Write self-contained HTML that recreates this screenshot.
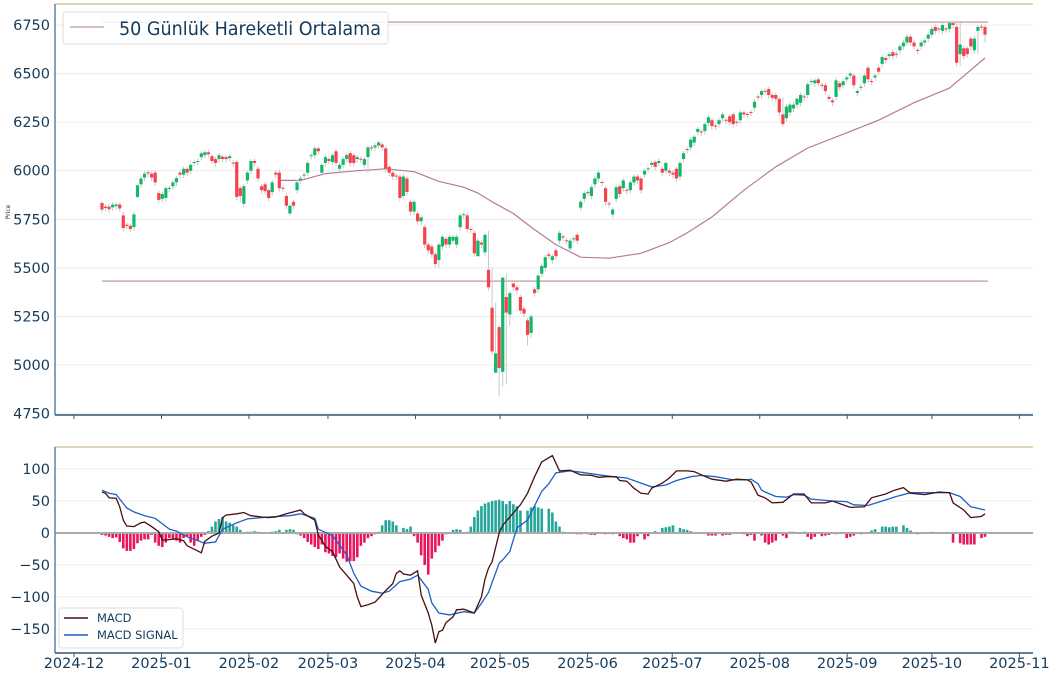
<!DOCTYPE html>
<html><head><meta charset="utf-8"><style>
body{margin:0;background:#fff;}
svg{display:block;font-family:"DejaVu Sans","Liberation Sans",sans-serif;}
</style></head><body>
<svg id="chart" width="1050" height="675" viewBox="0 0 1050 675"></svg>
<script>
const opens=[5834,5815,5815,5812,5818,5826,5770,5722,5716,5710,5865,5930,5965,5992,5985,5990,5885,5855,5860,5908,5920,5940,5990,5980,6010,6000,6040,6045,6070,6080,6095,6075,6060,6060,6072,6070,6065,6042,6045,5910,5830,5950,6000,6050,6010,5920,5930,5900,5890,5990,5990,5912,5870,5780,5840,5900,5950,5975,5990,6075,6080,6115,5990,6040,6060,6045,6100,6010,6030,6060,6090,6080,6060,6062,6030,6070,6120,6120,6130,6135,6115,6020,5990,5975,5970,5870,5960,5840,5790,5780,5740,5710,5620,5610,5570,5540,5610,5650,5620,5640,5620,5710,5772,5770,5700,5680,5560,5630,5580,5490,5295,4960,5195,4965,5350,5260,5420,5400,5350,5290,5230,5165,5390,5390,5470,5500,5570,5540,5590,5640,5662,5642,5600,5648,5670,5810,5855,5890,5870,5930,5960,5942,5910,5832,5775,5855,5920,5910,5902,5900,5940,5970,5960,5980,6008,6030,6045,6040,6010,6000,6000,5990,6010,5970,6060,6112,6120,6145,6200,6202,6205,6245,6260,6232,6240,6270,6262,6280,6290,6252,6260,6300,6292,6302,6325,6382,6390,6412,6420,6390,6390,6370,6290,6270,6300,6320,6340,6350,6382,6390,6458,6450,6470,6442,6440,6380,6362,6380,6450,6440,6470,6490,6490,6400,6428,6450,6530,6462,6480,6530,6550,6580,6590,6610,6602,6620,6640,6660,6690,6660,6622,6640,6660,6680,6700,6740,6732,6720,6732,6730,6760,6740,6600,6630,6630,6680,6620,6720,6742,6740];
const closes=[5800,5808,5802,5825,5826,5806,5705,5716,5700,5775,5925,5960,5985,5986,5965,5940,5850,5880,5910,5912,5940,5962,5980,6010,5990,6030,6045,6050,6090,6095,6085,6050,6040,6080,6060,6060,6075,6038,5865,5870,5920,5990,6050,6040,5960,5900,5895,5860,5940,5980,5910,5908,5820,5820,5820,5940,5960,5980,6040,6080,6115,6100,6030,6070,6050,6080,6040,6030,6060,6080,6040,6040,6070,6058,6060,6120,6118,6130,6145,6120,6010,5990,5970,5970,5860,5970,5890,5790,5840,5740,5760,5620,5590,5570,5520,5620,5660,5620,5660,5660,5660,5770,5776,5700,5695,5575,5640,5620,5670,5400,5070,5060,4985,5450,5270,5370,5400,5385,5280,5265,5155,5250,5370,5460,5510,5555,5562,5560,5560,5680,5656,5638,5640,5652,5640,5840,5885,5888,5915,5960,5990,5938,5840,5828,5800,5915,5880,5950,5898,5940,5970,5950,5900,6000,6012,6040,6020,6050,5990,6040,5990,5980,5960,6040,6090,6108,6160,6175,6215,6198,6240,6275,6230,6228,6260,6290,6258,6250,6240,6248,6300,6290,6288,6298,6355,6378,6410,6408,6390,6375,6370,6300,6240,6330,6340,6340,6370,6390,6378,6445,6462,6465,6450,6438,6410,6370,6352,6465,6430,6460,6480,6500,6440,6410,6432,6490,6470,6458,6490,6510,6585,6570,6600,6590,6598,6640,6660,6690,6660,6640,6618,6660,6670,6700,6730,6720,6728,6750,6728,6760,6750,6555,6650,6590,6600,6640,6680,6740,6738,6700];
const wickHighOverrides={6:5790,10:5935,50:6010,61:6125,85:5985,109:5690,110:5500,111:5320,113:5300,114:5470,116:5400,192:6380,241:6770,242:6760};
const wickLowOverrides={10:5860,39:5840,53:5770,75:5990,95:5500,106:5560,111:5000,112:4840,113:4890,114:4900,115:5200,120:5100,121:5140,192:6225,242:6540,247:6600,249:6660};
const maIdx=[50,56,63,72,80,88,95,102,106,110,116,121,128,135,143,152,160,165,172,181,190,199,210,219,229,239,249];
const maVals=[5950,5950,5985,6000,6010,5995,5945,5915,5885,5840,5780,5710,5620,5555,5550,5575,5630,5680,5762,5900,6020,6117,6195,6260,6350,6425,6580];
const macdIdx=[0,1,2,4,5,6,7,9,11,12,14,16,17,18,21,23,24,27,28,29,31,33,34,35,38,40,42,45,47,49,52,54,56,57,60,61,63,65,67,69,71,72,73,75,77,80,82,83,84,85,87,89,90,92,93,94,95,96,97,99,100,102,104,105,107,108,109,110,112,113,115,118,120,122,124,127,129,132,135,138,140,142,145,146,148,150,152,154,155,158,160,162,165,167,169,172,176,179,182,183,185,187,189,192,195,198,200,204,206,211,215,217,221,223,226,228,232,236,239,240,243,245,248,249];
const macdVals=[64,62,55,54,41,20,11,10,16,17,10,2,-11,-11,-9,-12,-20,-28,-31,-13,-5,0,24,28,30,32,27,25,24,25,30,33,36,30,20,-3,-21,-29,-53,-66,-79,-100,-115,-112,-108,-90,-79,-63,-59,-64,-66,-59,-97,-125,-144,-172,-154,-152,-140,-131,-120,-119,-123,-125,-100,-72,-55,-45,0,12,25,44,62,88,111,121,97,98,91,90,87,88,88,82,81,70,62,61,70,78,86,97,97,96,91,84,81,84,83,80,59,55,47,48,61,61,47,47,50,40,41,55,61,66,71,62,60,64,63,47,36,24,26,30];
const signalIdx=[0,2,4,7,9,12,15,19,21,24,27,29,32,34,38,41,47,53,56,60,61,65,69,71,73,76,79,81,84,87,89,92,93,95,98,102,105,107,109,112,113,115,117,120,124,126,128,132,135,140,144,148,152,155,159,162,166,169,173,178,182,183,185,186,187,190,193,195,198,200,206,210,212,216,220,224,228,234,239,242,245,249];
const signalVals=[67,62,60,39,33,27,23,6,3,-6,-12,-16,-14,6,16,22,25,27,30,23,6,-4,-34,-63,-83,-91,-94,-91,-76,-72,-66,-88,-109,-125,-128,-123,-125,-110,-93,-47,-42,-29,8,20,65,77,94,97,95,91,88,86,78,72,75,82,88,90,88,83,83,84,77,67,64,57,56,60,59,53,50,49,44,43,50,57,63,63,63,57,41,36];
const histVals=[-3,-4,-6,-8,-7,-14,-24,-28,-28,-25,-16,-12,-10,-10,-3,-15,-20,-22,-15,-8,-10,-12,-15,-8,-5,-15,-20,-12,-6,-3,3,10,18,22,25,18,16,12,10,5,0,2,2,3,2,0,0,0,2,3,5,0,5,6,5,-2,-4,-8,-14,-18,-22,-25,-18,-30,-32,-36,-38,-32,-40,-45,-44,-44,-38,-20,-15,-8,-5,-2,2,12,20,20,18,12,0,8,6,10,-5,-15,-35,-50,-65,-40,-30,-20,-12,-2,0,5,6,5,0,2,10,25,35,42,46,48,50,51,52,50,45,50,45,42,35,0,35,40,42,40,38,0,38,32,18,10,2,0,1,0,-2,-2,0,-2,-3,-3,-1,0,-2,0,-2,0,-5,-8,-10,-15,-15,-5,0,-10,-5,0,3,0,8,9,10,12,0,8,6,5,3,0,0,0,0,-4,-4,-4,0,-4,-3,-3,0,0,0,-2,-5,-3,-12,0,-4,-15,-18,-15,-12,0,-4,-8,2,2,0,1,2,-6,-10,-6,0,-5,-4,-3,0,-2,0,0,-8,-6,-4,0,-2,-1,0,4,6,0,10,10,9,10,10,0,12,8,4,0,-2,0,-1,0,2,0,1,0,1,0,-15,0,-16,-18,-18,-18,-18,0,-8,-6];
const priceTicks=[4750,5000,5250,5500,5750,6000,6250,6500,6750];
const macdTicks=[-150,-100,-50,0,50,100];
const monthLabels=["2024-12","2025-01","2025-02","2025-03","2025-04","2025-05","2025-06","2025-07","2025-08","2025-09","2025-10","2025-11"];
const monthDays=[0,31,62,90,121,151,182,212,243,274,304,335];
const hLevels=[6765,5432];

const NS="http://www.w3.org/2000/svg";
const svg=document.getElementById('chart');
function mk(tag,attrs,parent){const e=document.createElementNS(NS,tag);for(const k in attrs)e.setAttribute(k,attrs[k]);(parent||svg).appendChild(e);return e;}
const L=55,R=1033,N=closes.length;
const xi=i=>102+i*(883/(N-1));
const xd=d=>74+d*2.822;
const yp=v=>25+(6750-v)*0.1943;
const ym=v=>533-v*0.64;

const g1=mk('g',{});

priceTicks.forEach(v=>{mk('line',{x1:L,x2:R,y1:yp(v),y2:yp(v),stroke:'#ececec','stroke-width':1},g1);
 const t=mk('text',{x:L-5,y:yp(v)+5,'text-anchor':'end','font-size':14.5,fill:'#143a5c'});t.textContent=v;
 });
const g2=mk('g',{});

macdTicks.forEach(v=>{mk('line',{x1:L,x2:R,y1:ym(v),y2:ym(v),stroke:'#ececec','stroke-width':1},g2);
 const t=mk('text',{x:L-5,y:ym(v)+5,'text-anchor':'end','font-size':14.5,fill:'#143a5c'});t.textContent=v.toString().replace('-','\u2212');
 });

hLevels.forEach(v=>{const l=mk('line',{x1:102,x2:988,y1:yp(v),y2:yp(v),stroke:'#c9a9ad','stroke-width':1.5});
 });

let d='';maIdx.forEach((i,k)=>{d+=(k?'L':'M')+xi(i).toFixed(1)+','+yp(maVals[k]).toFixed(1);});
const ma=mk('path',{d:d,fill:'none',stroke:'#b57a9e','stroke-width':1.2,'stroke-linejoin':'round'});


const cg=mk('g',{});
for(let i=0;i<N;i++){
 const o=opens[i],c=closes[i];const up=c>=o;
 const hi=wickHighOverrides[i]!==undefined?wickHighOverrides[i]:Math.max(o,c)+12;
 const lo=wickLowOverrides[i]!==undefined?wickLowOverrides[i]:Math.min(o,c)-18;
 const x=xi(i);
 const w=mk('line',{x1:x,x2:x,y1:yp(hi),y2:yp(lo),stroke:'#c8c8c8','stroke-width':1},cg);
 
 const top=yp(Math.max(o,c)),bot=yp(Math.min(o,c));
 const b=mk('rect',{x:x-1.6,y:top,width:3.2,height:Math.max(1,bot-top),fill:up?'#12b76a':'#f5424c'},cg);
 
}

const hg=mk('g',{});
histVals.forEach((v,i)=>{if(!v)return;const x=xi(i);
 const r=mk('rect',{x:x-1.3,y:Math.min(ym(0),ym(v)),width:2.6,height:Math.abs(ym(v)-ym(0)),fill:v>0?'#26a69a':'#e8175d'},hg);
 });
const z=mk('line',{x1:L,x2:R,y1:ym(0),y2:ym(0),stroke:'#aaaaaa','stroke-width':2});


function series(idx,vals,col,name){let p='';idx.forEach((i,k)=>{p+=(k?'L':'M')+xi(i).toFixed(1)+','+ym(vals[k]).toFixed(1);});
 const e=mk('path',{d:p,fill:'none',stroke:col,'stroke-width':1.3});}
series(signalIdx,signalVals,'#1f5fc8','macd-signal-line');
series(macdIdx,macdVals,'#4a0f0f','macd-line');

[[4,415],[447,653]].forEach(([t,b],k)=>{
 mk('line',{x1:L,x2:R,y1:t,y2:t,stroke:'#d9c9a0','stroke-width':1.5});
 mk('line',{x1:L,x2:L,y1:t,y2:b,stroke:'#5f82aa','stroke-width':1.5});
 mk('line',{x1:L,x2:R,y1:b,y2:b,stroke:'#2f5679','stroke-width':1.5});
 monthDays.forEach(dd=>mk('line',{x1:xd(dd),x2:xd(dd),y1:b,y2:b+4,stroke:'#2f5679','stroke-width':1}));
});
monthLabels.forEach((m,k)=>{const t=mk('text',{x:xd(monthDays[k]),y:668,'text-anchor':'middle','font-size':14.5,fill:'#143a5c'});t.textContent=m;
 });
const yl=mk('text',{x:10,y:212,'font-size':6,fill:'#333','text-anchor':'middle',transform:'rotate(-90 10 212)'});yl.textContent='Price';


const lg=mk('g',{});
mk('rect',{x:63,y:12,width:325,height:32,rx:3,fill:'#fff','fill-opacity':0.85,stroke:'#dddddd'},lg);
mk('line',{x1:70,x2:104,y1:27,y2:27,stroke:'#c9a9ad','stroke-width':1.5},lg);
const lt=mk('text',{x:119,y:35,'font-size':19,fill:'#143a5c',textLength:262,lengthAdjust:'spacingAndGlyphs'},lg);lt.textContent='50 Günlük Hareketli Ortalama';
const lg2=mk('g',{});
mk('rect',{x:59,y:608,width:124,height:40,rx:3,fill:'#fff','fill-opacity':0.85,stroke:'#dddddd'},lg2);
mk('line',{x1:64,x2:88,y1:618,y2:618,stroke:'#4a0f0f','stroke-width':1.5},lg2);
mk('line',{x1:64,x2:88,y1:635,y2:635,stroke:'#1f5fc8','stroke-width':1.5},lg2);
const t1=mk('text',{x:97,y:622,'font-size':11.5,fill:'#143a5c'},lg2);t1.textContent='MACD';
const t2=mk('text',{x:97,y:639,'font-size':11.5,fill:'#143a5c'},lg2);t2.textContent='MACD SIGNAL';
</script>
</body></html>
